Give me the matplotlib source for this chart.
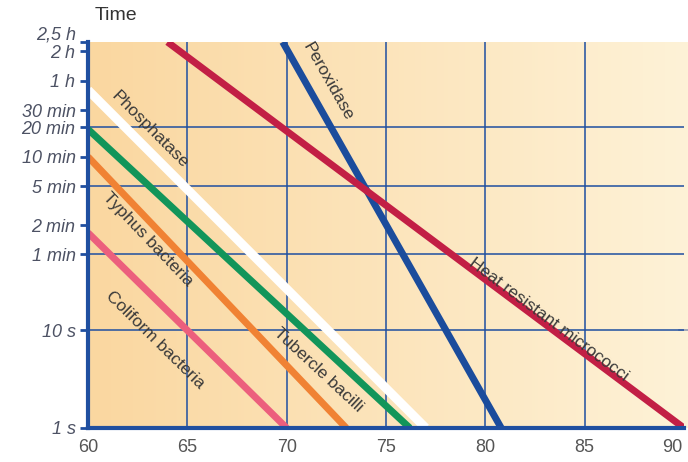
import numpy as np
import matplotlib
matplotlib.use("Agg")
import matplotlib.pyplot as plt
from matplotlib.transforms import ScaledTranslation

plt.rcParams['font.family'] = ['Liberation Sans', 'DejaVu Sans']

# temperature (deg C) / holding time (s) end points for each curve
names = ["Coliform bacteria", "Typhus bacteria", "Tubercle bacilli",
         "Phosphatase", "Peroxidase", "Heat resistant micrococci"]
temps = [[60, 70], [60, 73], [60, 76.2], [60, 77], [69.8, 80.8], [64, 90]]
times = [[100, 1], [600, 1], [1150, 1], [2900, 1], [9000, 1], [9000, 1]]
colors = ["#ec5f7d", "#f08234", "#12955a", "#ffffff", "#1b4c9c", "#c21f45"]
widths = [5, 5, 5, 6.5, 5, 5]

# label anchor positions (temp, time)
label_pos = [(63.4, 8), (63.0, 85), (71.6, 3.9), (63.1, 1130), (72.1, 3500), (83.2, 13)]

ytick_vals = [1, 10, 60, 120, 300, 600, 1200, 1800, 3600, 7200, 9000]
ytick_labels = ["1 s", "10 s", "1 min", "2 min", "5 min", "10 min", "20 min",
                "30 min", "1 h", "2 h", ""]
xtick_vals = [60, 65, 70, 75, 80, 85, 90]
grid_y = [10, 60, 300, 1200]

blue = "#1f4fa0"
fig = plt.figure(figsize=(6.88, 4.62), dpi=100)

# background gradient (runs to the right edge of the picture)
bg = fig.add_axes([88 / 688, 34 / 462, 600 / 688, 386 / 462])
grad = np.linspace(0, 1, 256)
c0 = np.array([250, 215, 160]) / 255
c1 = np.array([254, 242, 215]) / 255
img = c0[None, :] * (1 - grad[:, None]) + c1[None, :] * grad[:, None]
bg.imshow(img[None, :, :], aspect="auto", extent=[0, 1, 0, 1])
bg.set_axis_off()
bg.axhline(0.2545, xmin=0.985, xmax=1, color="#8a93b0", lw=1.1)

ax = fig.add_axes([88 / 688, 34 / 462, 596 / 688, 386 / 462])
ax.patch.set_alpha(0)
ax.set_yscale("log")
ax.set_xlim(60, 90)
ax.set_ylim(1, 9000)

for gx in xtick_vals[1:-1]:
    ax.axvline(gx, color=blue, lw=1.1, zorder=1)
for gy in grid_y:
    ax.axhline(gy, color=blue, lw=1.1, zorder=1)

for t, s, c, w in zip(temps, times, colors, widths):
    ax.plot(t, s, color=c, lw=w, solid_capstyle="butt", zorder=2)

fig.canvas.draw()
for name, t, s, (lx, ly) in zip(names, temps, times, label_pos):
    p0 = ax.transData.transform((t[0], s[0]))
    p1 = ax.transData.transform((t[1], s[1]))
    ang = np.degrees(np.arctan2(p1[1] - p0[1], p1[0] - p0[0]))
    ax.text(lx, ly, name, rotation=ang, rotation_mode="anchor",
            ha="center", va="center", fontsize=12.5, color="#3a3a3a", zorder=3)

for side in ["top", "right"]:
    ax.spines[side].set_visible(False)
for side in ["left", "bottom"]:
    ax.spines[side].set_color(blue)
    ax.spines[side].set_linewidth(3)

ax.yaxis.set_minor_locator(matplotlib.ticker.NullLocator())
ax.set_yticks(ytick_vals)
ax.set_yticklabels(ytick_labels, fontstyle="italic", fontsize=13, color="#4d5264")
ax.tick_params(axis="y", direction="out", length=6, width=2, color=blue, pad=3)
# "2,5 h" sits a little above its tick so it clears "2 h"
lift = ScaledTranslation(-0.02, 0.07, fig.dpi_scale_trans)
ax.text(-0.017, 9000, "2,5 h", transform=ax.get_yaxis_transform() + lift,
        ha="right", va="center", fontsize=13, fontstyle="italic", color="#4d5264")

ax.set_xticks(xtick_vals)
ax.set_xticklabels([str(v) for v in xtick_vals], fontsize=13, color="#555555")
ax.tick_params(axis="x", length=0, pad=8)
last = ax.get_xticklabels()[-1]
last.set_ha("right")
last.set_transform(last.get_transform() + ScaledTranslation(-1 / 72, 0, fig.dpi_scale_trans))

fig.text(95 / 688, 1 - 16 / 462, "Time", fontsize=14, color="#333333",
         ha="left", va="center")

fig.savefig("out.png", dpi=100)
